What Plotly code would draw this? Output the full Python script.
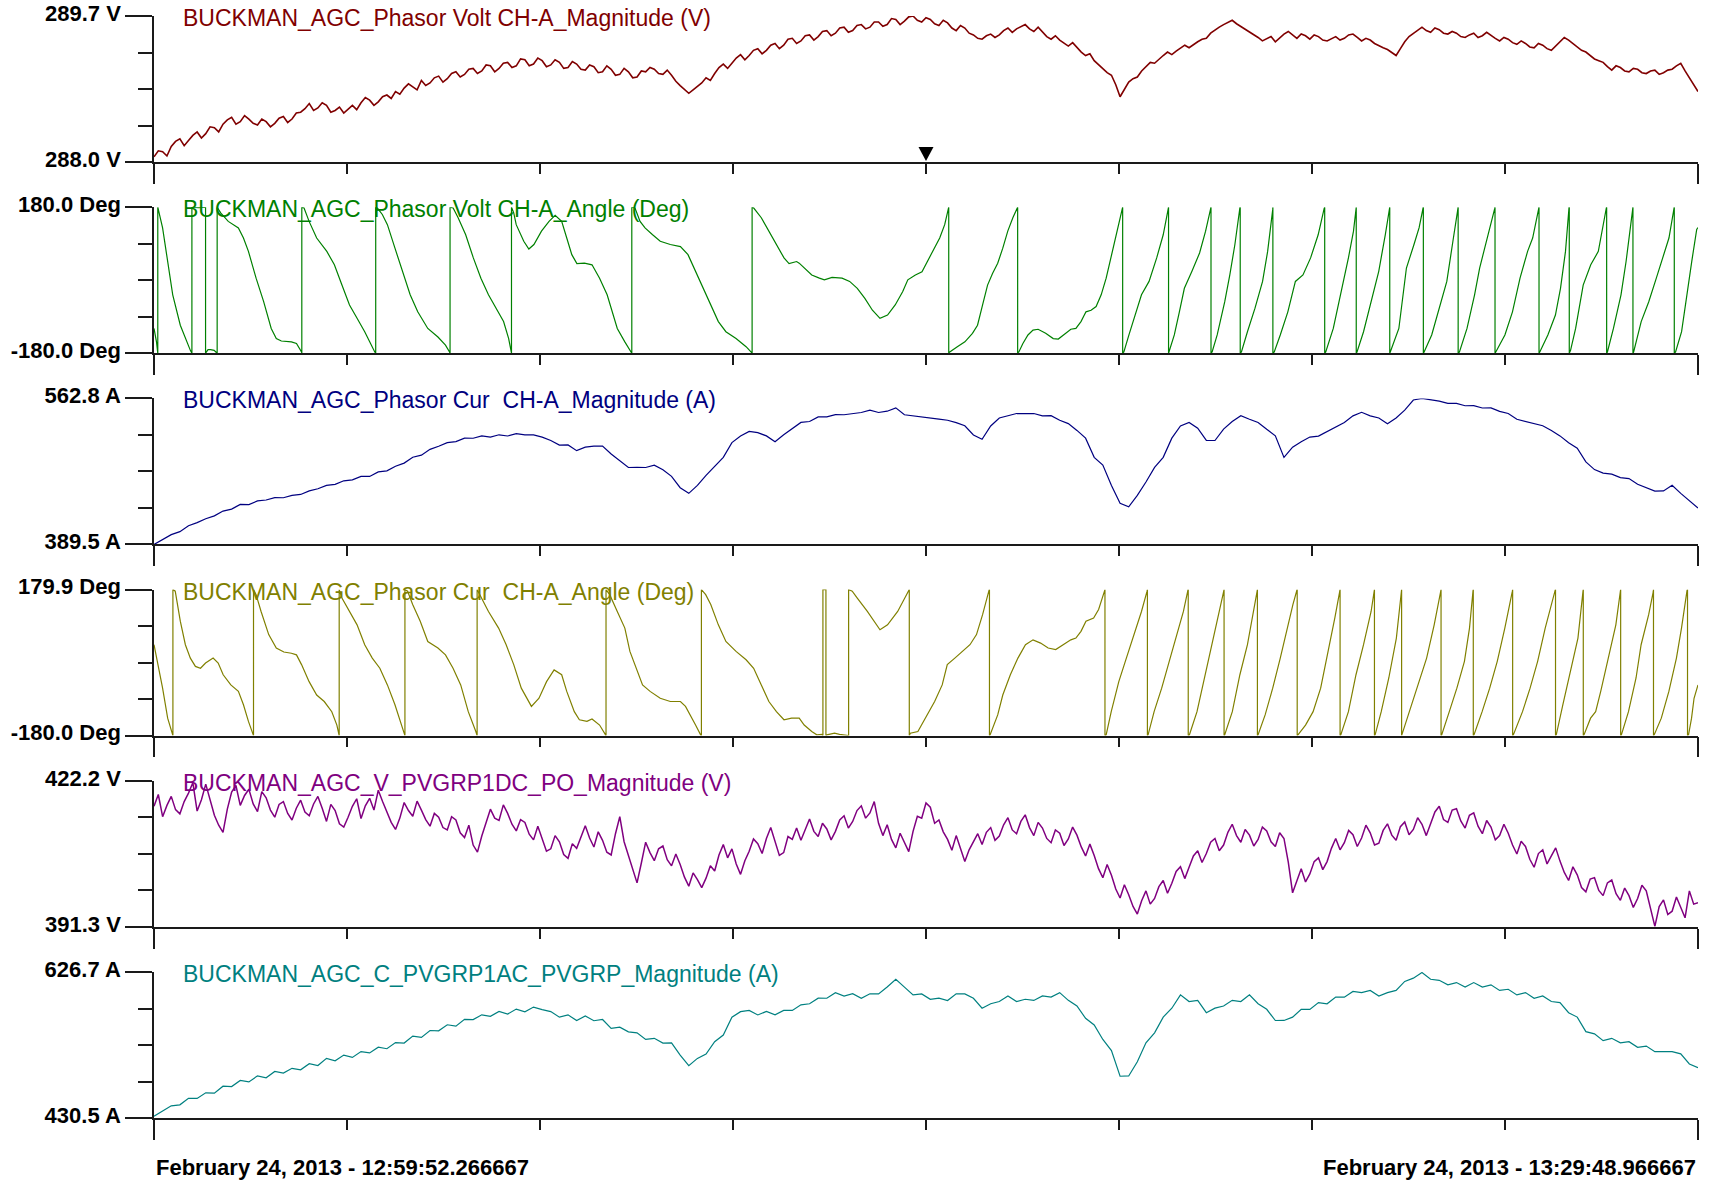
import numpy as np
import plotly.graph_objects as go

# ---------------- data ----------------
DURATION_S = 1796.7           # 12:59:52.266667 -> 13:29:48.966667
START_LABEL = "February 24, 2013 - 12:59:52.266667"
END_LABEL = "February 24, 2013 - 13:29:48.966667"
CURSOR_T = 898.35

TITLES = [
    "BUCKMAN_AGC_Phasor Volt CH-A_Magnitude (V)",
    "BUCKMAN_AGC_Phasor Volt CH-A_Angle (Deg)",
    "BUCKMAN_AGC_Phasor Cur\u00a0 CH-A_Magnitude (A)",
    "BUCKMAN_AGC_Phasor Cur\u00a0 CH-A_Angle (Deg)",
    "BUCKMAN_AGC_V_PVGRP1DC_PO_Magnitude (V)",
    "BUCKMAN_AGC_C_PVGRP1AC_PVGRP_Magnitude (A)",
]
Y_RANGES = [(288.0, 289.7), (-180.0, 180.0), (389.5, 562.8),
            (-180.0, 179.9), (391.3, 422.2), (430.5, 626.7)]
Y_LABELS = [("288.0 V", "289.7 V"), ("-180.0 Deg", "180.0 Deg"),
            ("389.5 A", "562.8 A"), ("-180.0 Deg", "179.9 Deg"),
            ("391.3 V", "422.2 V"), ("430.5 A", "626.7 A")]

# Panel 1: voltage magnitude (V), evenly spaced samples
VOLT_MAG = [
    288.06, 288.13, 288.12, 288.07, 288.18, 288.24, 288.27, 288.19, 288.25, 288.31,
    288.35, 288.28, 288.33, 288.41, 288.40, 288.35, 288.44, 288.49, 288.52, 288.44,
    288.47, 288.54, 288.50, 288.45, 288.43, 288.50, 288.47, 288.41, 288.45, 288.51,
    288.53, 288.46, 288.50, 288.57, 288.58, 288.62, 288.68, 288.60, 288.63, 288.69,
    288.66, 288.58, 288.60, 288.64, 288.57, 288.62, 288.66, 288.61, 288.69, 288.75,
    288.72, 288.66, 288.70, 288.76, 288.78, 288.74, 288.82, 288.79, 288.86, 288.91,
    288.88, 288.84, 288.95, 288.89, 288.92, 288.98, 289.00, 288.93, 288.97, 289.03,
    289.05, 288.99, 289.02, 289.08, 289.09, 289.03, 289.06, 289.13, 289.12, 289.05,
    289.09, 289.15, 289.16, 289.10, 289.12, 289.20, 289.19, 289.12, 289.14, 289.21,
    289.18, 289.11, 289.13, 289.19, 289.16, 289.09, 289.10, 289.17, 289.14, 289.08,
    289.07, 289.13, 289.11, 289.04, 289.05, 289.12, 289.08, 289.01, 289.02, 289.09,
    289.05, 288.98, 288.99, 289.06, 289.05, 289.10, 289.08, 289.03, 289.02, 289.07,
    289.01, 288.94, 288.89, 288.85, 288.80, 288.84, 288.88, 288.92, 288.98, 288.95,
    289.03, 289.10, 289.14, 289.09, 289.15, 289.21, 289.25, 289.19, 289.24, 289.30,
    289.32, 289.26, 289.30, 289.36, 289.38, 289.32, 289.36, 289.43, 289.44, 289.38,
    289.41, 289.47, 289.48, 289.42, 289.46, 289.52, 289.53, 289.47, 289.50, 289.56,
    289.57, 289.51, 289.53, 289.59, 289.60, 289.55, 289.57, 289.63, 289.63, 289.58,
    289.60, 289.67, 289.66, 289.60, 289.64, 289.69, 289.70, 289.65, 289.63, 289.68,
    289.66, 289.61, 289.59, 289.65, 289.62, 289.56, 289.53, 289.59, 289.56, 289.50,
    289.48, 289.44, 289.43, 289.47, 289.49, 289.45, 289.48, 289.53, 289.56, 289.51,
    289.55, 289.58, 289.60, 289.55, 289.52, 289.57, 289.51, 289.46, 289.43, 289.47,
    289.42, 289.38, 289.35, 289.39, 289.33, 289.28, 289.24, 289.26, 289.18, 289.13,
    289.08, 289.04, 289.01, 288.90, 288.76, 288.84, 288.93, 288.97, 288.99, 289.06,
    289.11, 289.16, 289.15, 289.20, 289.24, 289.28, 289.25, 289.29, 289.32, 289.36,
    289.33, 289.37, 289.40, 289.43, 289.44, 289.50, 289.54, 289.57, 289.60, 289.63,
    289.65, 289.61, 289.58, 289.55, 289.52, 289.48, 289.45, 289.41, 289.44, 289.46,
    289.40, 289.45, 289.49, 289.52, 289.48, 289.44, 289.49, 289.47, 289.43, 289.48,
    289.46, 289.42, 289.41, 289.44, 289.46, 289.42, 289.44, 289.48, 289.49, 289.45,
    289.41, 289.44, 289.42, 289.38, 289.35, 289.33, 289.31, 289.27, 289.24, 289.32,
    289.40, 289.46, 289.50, 289.54, 289.57, 289.53, 289.51, 289.56, 289.54, 289.50,
    289.49, 289.52, 289.50, 289.46, 289.45, 289.48, 289.50, 289.45, 289.47, 289.51,
    289.48, 289.44, 289.41, 289.45, 289.43, 289.39, 289.37, 289.41, 289.38, 289.34,
    289.33, 289.38, 289.36, 289.32, 289.30, 289.35, 289.40, 289.45, 289.42, 289.38,
    289.33, 289.30, 289.28, 289.24, 289.20, 289.18, 289.16, 289.11, 289.07, 289.12,
    289.10, 289.06, 289.05, 289.09, 289.08, 289.04, 289.03, 289.06, 289.07, 289.02,
    289.04, 289.07, 289.08, 289.12, 289.15, 289.06, 288.98, 288.90, 288.82,
]

# Panel 2: voltage angle (s, deg); wraps appear as repeated times
VOLT_ANGLE_POINTS = [
    (0, -119), (2.9, -152), (4.4, -180), (4.4, 180), (10, 129), (15.9, 46), (21.8, -36),
    (30.6, -111), (36.5, -144), (42.3, -173), (44.1, -180), (44.1, 180), (52, 179), (60, 180),
    (60, -180), (62.9, -171), (65.8, -171), (70, -173), (73.5, -180), (73.5, 180), (77.6, 166),
    (86.4, 145), (98.2, 129), (104.1, 104), (109.9, 71), (118.8, 5), (127.6, -53), (136.4, -119),
    (142.3, -144), (148.2, -150), (159.9, -152), (165.8, -156), (171.7, -177), (172, -180),
    (172, 180), (174.6, 178), (180.5, 145), (189.3, 104), (201.1, 71), (209.9, 38), (218.7, -12),
    (227.5, -61), (236.3, -94), (245.2, -127), (256.9, -177), (258, -180), (258, 180),
    (259.9, 178), (265.7, 162), (271.6, 137), (280.4, 79), (289.2, 22), (298.1, -36),
    (306.9, -78), (318.6, -119), (330.4, -140), (339.2, -160), (343.9, -177), (344.5, -180),
    (344.5, 180), (348.1, 178), (353.9, 154), (362.7, 112), (371.6, 55), (380.4, 5),
    (389.2, -36), (398, -69), (406.8, -102), (412.7, -144), (415.6, -177), (416, -180),
    (416, 180), (418.6, 166), (421.5, 137), (430.3, 96), (436.2, 77), (442.1, 88),
    (450.9, 121), (459.7, 145), (466.8, 160), (474.4, 145), (480.3, 104), (486.2, 63),
    (492.1, 41), (500.9, 42), (509.7, 38), (518.5, 5), (527.3, -36), (533.2, -78),
    (539.1, -119), (547.9, -152), (554.9, -177), (556, -180), (556, 180), (559.7, 178),
    (565.6, 145), (571.4, 129), (580.2, 112), (589.1, 96), (600.8, 88), (612.6, 83),
    (621.4, 63), (630.2, 22), (639, -20), (647.9, -61), (656.7, -102), (665.5, -127),
    (677.3, -144), (689, -164), (694.9, -177), (696, -180), (696, 180), (697.9, 178),
    (706.7, 154), (715.5, 121), (724.3, 88), (733.1, 55), (739, 41), (747.8, 46),
    (750.8, 42), (756.6, 30), (765.4, 13), (774.3, 5), (780.1, 1), (789, 7), (800.7, 5),
    (809.5, -3), (818.4, -20), (827.2, -45), (836, -74), (844.8, -94), (853.6, -86),
    (862.5, -61), (871.3, -28), (877.2, 1), (886, 13), (893.7, 21), (899.6, 45), (905.4, 68),
    (914.3, 104), (920.1, 137), (924.2, 178), (924.8, 180), (924.8, -180), (926, -177),
    (934.8, -164), (943.6, -152), (952.4, -131), (958.3, -111), (964.2, -61), (970, -12),
    (975.9, 17), (981.8, 42), (987.7, 79), (993.5, 121), (999.4, 154), (1005, 180),
    (1005, -180), (1006.4, -177), (1011.1, -156), (1017, -135), (1022.9, -123),
    (1028.8, -121), (1037.6, -131), (1046.4, -144), (1052.3, -145), (1058.1, -135),
    (1066.9, -121), (1072.8, -119), (1078.7, -102), (1084.5, -78), (1090.4, -74),
    (1096.3, -65), (1102.2, -36), (1108, 5), (1113.9, 59), (1119.8, 112), (1126.8, 177),
    (1127.2, 180), (1127.2, -180), (1128.6, -177), (1134.5, -135), (1140.3, -94),
    (1149.1, -36), (1157.9, -3), (1166.8, 55), (1174.4, 112), (1180.3, 178), (1180.6, 180),
    (1180.6, -180), (1181.4, -175), (1187.3, -135), (1193.2, -78), (1199, -20),
    (1207.8, 22), (1216.7, 67), (1223.7, 121), (1229.6, 178), (1230, 180), (1230, -180),
    (1231.3, -177), (1237.2, -135), (1246, -53), (1251.9, 13), (1257.8, 88), (1263.6, 178),
    (1264, 180), (1264, -180), (1265.4, -177), (1272.4, -127), (1281.2, -69), (1290, -3),
    (1295.9, 71), (1301.8, 174), (1302, 180), (1302, -180), (1303.6, -177), (1310.6, -135),
    (1319.4, -78), (1328.2, -3), (1337, 13), (1345.9, 55), (1354.7, 112), (1361.7, 177),
    (1362.3, 180), (1362.3, -180), (1363.5, -177), (1372.3, -119), (1381.1, -36),
    (1389.9, 55), (1395.8, 121), (1398.7, 177), (1399, 180), (1399, -180), (1399.9, -177),
    (1407.5, -127), (1416.3, -53), (1425.2, 22), (1432.8, 112), (1437.5, 174), (1438, 180),
    (1438, -180), (1438.6, -177), (1448.6, -119), (1457.4, 30), (1466.2, 88), (1472.1, 129),
    (1476.8, 178), (1477.1, 180), (1477.1, -180), (1478, -177), (1486.8, -135),
    (1495.6, -69), (1504.4, -3), (1511.5, 96), (1517.3, 177), (1517.6, 180), (1517.6, -180),
    (1519.1, -177), (1527.9, -119), (1536.7, -36), (1542.6, 30), (1548.5, 79), (1554.3, 121),
    (1560.2, 177), (1560.5, 180), (1560.5, -180), (1561.4, -177), (1572, -135),
    (1580.8, -78), (1589.6, 5), (1598.4, 71), (1604.3, 104), (1611.4, 177), (1611.7, 180),
    (1611.7, -180), (1612.6, -177), (1622, -135), (1630.8, -86), (1636.7, -20),
    (1642.5, 71), (1646.6, 179), (1646.9, 180), (1646.9, -180), (1648.4, -173),
    (1654.3, -119), (1663.1, -12), (1671.9, 38), (1680.7, 71), (1690.1, 179), (1690.4, 180),
    (1690.4, -180), (1691.3, -177), (1698.3, -119), (1707.1, -36), (1713, 46),
    (1720.6, 177), (1721, 180), (1721, -180), (1721.8, -177), (1730.6, -102), (1739.4, -53),
    (1748.2, 5), (1757.1, 63), (1762.9, 104), (1768.8, 177), (1769.1, 180), (1769.1, -180),
    (1770.6, -177), (1777.6, -127), (1783.5, -36), (1789.4, 46), (1795.2, 125),
    (1796.7, 130),
]

# Panel 3: current magnitude (A), evenly spaced samples
CUR_MAG = [
    389.5, 395.2, 401.1, 404.6, 411.7, 415.3, 419.9, 423.4, 429.1, 431.4,
    437.0, 436.8, 441.1, 442.2, 445.0, 444.9, 447.6, 448.8, 453.0, 455.5,
    459.6, 460.8, 465.0, 466.1, 470.3, 470.2, 475.6, 476.8, 482.3, 486.0,
    493.0, 495.4, 502.3, 506.0, 510.3, 511.5, 515.6, 515.5, 518.3, 516.9,
    519.6, 518.2, 520.9, 519.4, 519.5, 516.8, 512.9, 507.4, 507.6, 500.8,
    504.9, 506.1, 506.3, 496.8, 488.9, 480.8, 480.9, 480.8, 483.6, 478.1,
    470.3, 456.8, 450.1, 459.6, 471.4, 482.3, 492.8, 510.3, 518.1, 523.6,
    522.1, 518.3, 511.4, 519.6, 527.4, 534.3, 535.4, 540.9, 540.8, 543.6,
    543.4, 544.9, 546.1, 548.9, 546.1, 547.6, 551.6, 543.4, 542.3, 540.8,
    539.6, 538.1, 536.9, 534.1, 530.3, 519.4, 514.3, 530.1, 539.6, 542.1,
    544.9, 544.8, 544.9, 542.1, 542.3, 536.8, 532.9, 524.8, 515.6, 492.8,
    483.6, 459.5, 438.3, 434.1, 447.6, 463.5, 480.9, 492.8, 515.6, 530.1,
    534.3, 527.4, 512.9, 512.8, 526.3, 535.4, 542.3, 538.1, 534.3, 526.1,
    518.3, 492.8, 504.9, 511.4, 516.9, 518.1, 523.6, 528.8, 534.3, 542.1,
    546.3, 542.1, 539.6, 532.8, 539.6, 548.8, 560.9, 562.8, 561.0, 559.6,
    556.8, 556.9, 554.1, 554.3, 551.4, 551.6, 547.4, 544.9, 538.1, 535.6,
    532.8, 530.3, 524.8, 518.3, 510.1, 503.6, 487.4, 478.3, 474.1, 472.9,
    468.8, 467.6, 460.8, 457.0, 452.8, 453.0, 459.6, 450.1, 441.0, 432.8,
]

# Panel 4: current angle (s, deg); wraps appear as repeated times
CUR_ANGLE_POINTS = [
    (0, 44), (10, -63), (15.9, -137), (21.8, -178), (22, -180), (22, 180), (24.7, 176),
    (30.6, 102), (36.5, 44), (42.3, 11), (48.2, -9.5), (54.1, -14), (60, -1), (68.8, 11),
    (74.7, -1), (80.5, -30), (89.4, -55), (98.2, -71), (104.1, -104), (109.9, -145),
    (115.8, -180), (115.8, 180), (118.8, 167.5), (124.6, 126), (133.5, 69), (142.3, 36),
    (151.1, 26), (159.9, 23), (165.8, 19), (171.7, -5), (180.5, -47), (189.3, -80),
    (198.1, -96), (206.9, -121), (212.8, -154), (215.5, -180), (215.5, 180), (218.7, 159),
    (227.5, 126), (236.3, 93), (245.2, 44), (254, 11), (262.8, -14), (271.6, -55),
    (280.4, -104), (286.3, -145), (292, -180), (292, 180), (295.1, 176), (301, 143),
    (309.8, 102), (318.6, 52), (330.4, 36), (339.2, 19), (348, -14), (356.9, -55),
    (365.7, -121), (374.5, -170), (376, -180), (376, 180), (380.4, 163), (389.2, 126),
    (401, 85), (409.8, 44), (418.6, -5), (427.4, -63), (439.2, -108), (448, -88),
    (456.8, -47), (465.6, -18), (474.4, -30), (480.3, -71), (489.1, -121), (495, -141),
    (503.8, -145), (509.7, -139), (518.5, -154), (525.6, -178), (526, -180), (526, 180),
    (530.3, 167.5), (539.1, 126), (547.9, 85), (553.8, 27.5), (562.6, -22), (568.5, -55),
    (577.3, -71), (589.1, -88), (600.8, -96), (612.6, -96), (618.5, -108), (624.3, -129),
    (630.2, -154), (636.1, -178), (637, -180), (637, 180), (642, 167.5), (647.9, 143),
    (656.7, 93), (665.5, 52), (677.3, 27.5), (689, 7), (697.8, -14), (706.7, -55),
    (715.5, -96), (724.3, -121), (733.1, -141), (741.9, -137), (750.8, -137), (756.6, -154),
    (765.4, -170), (771.3, -178), (777.2, -177), (778.4, -180), (778.4, 180), (781.9, 180),
    (781.9, -180), (783.1, -178), (791.9, -174), (797.7, -177), (806.6, -178),
    (808.3, -180), (808.3, 180), (812.5, 176), (818.4, 159), (830.1, 126), (844.8, 81),
    (853.6, 93), (865.4, 126), (877.1, 176), (878.9, 180), (878.9, -180), (880.1, -174),
    (888.9, -170), (899.6, -129), (908.4, -96), (917.2, -55), (923.1, -5), (931.9, 11),
    (940.7, 27.5), (949.5, 44), (957.1, 69), (964.2, 118), (971.8, 179), (972.2, 180),
    (972.2, -180), (973, -178), (981.8, -129), (987.7, -80), (996.5, -30), (1005.3, 11),
    (1014.1, 44), (1022.9, 56), (1031.7, 48), (1040.5, 36), (1049.3, 32), (1058.1, 44),
    (1066.9, 56), (1072.8, 60.5), (1078.7, 77), (1084.5, 102), (1093.4, 110), (1099.2, 131),
    (1106.3, 176), (1106.6, 180), (1106.6, -180), (1108, -178), (1113.9, -121),
    (1122.7, -47), (1131.5, 11), (1140.3, 69), (1149.1, 126), (1155.6, 176), (1156, 180),
    (1156, -180), (1156.8, -178), (1163.8, -121), (1172.6, -63), (1181.4, 3), (1190.3, 69),
    (1197.9, 126), (1203.2, 179), (1203.5, 180), (1203.5, -180), (1204.9, -178),
    (1213.7, -121), (1222.5, -38), (1231.3, 44), (1240.2, 126), (1244.9, 177),
    (1245.2, 180), (1245.2, -180), (1246, -178), (1254.8, -121), (1263.6, -30),
    (1272.4, 44), (1278.9, 126), (1283.6, 176), (1284, 180), (1284, -180), (1284.8, -178),
    (1293, -129), (1301.8, -63), (1310.6, 11), (1319.4, 93), (1325.3, 143), (1330, 179),
    (1330.3, 180), (1330.3, -180), (1331.2, -178), (1340, -154), (1348.8, -121),
    (1357.6, -63), (1366.4, 27.5), (1374.1, 110), (1379.9, 177), (1380.2, 180),
    (1380.2, -180), (1381.1, -178), (1389.9, -121), (1398.7, -30), (1407.5, 44),
    (1416.3, 126), (1419.9, 176), (1420.2, 180), (1420.2, -180), (1421, -178),
    (1428.1, -121), (1436.9, -38), (1445.7, 60.5), (1451.5, 176), (1451.8, 180),
    (1451.8, -180), (1452.1, -178), (1460.3, -121), (1469.2, -63), (1480.9, 11),
    (1489.7, 93), (1497.4, 176), (1497.7, 180), (1497.7, -180), (1498.5, -178),
    (1507.3, -121), (1516.1, -63), (1524.9, 3), (1530.8, 85), (1534.9, 177), (1535.2, 180),
    (1535.2, -180), (1536.1, -178), (1545.5, -121), (1554.3, -63), (1563.1, 3),
    (1571.9, 85), (1580.7, 176), (1581, 180), (1581, -180), (1581.9, -178), (1592.5, -121),
    (1601.3, -63), (1610.1, 3), (1618.9, 85), (1630.6, 179), (1630.9, 180), (1630.9, -180),
    (1631.8, -178), (1639.4, -104), (1648.2, -22), (1657, 60.5), (1662.9, 176),
    (1663.2, 180), (1663.2, -180), (1664.1, -178), (1671.7, -137), (1677.6, -121),
    (1683.5, -71), (1692.3, 11), (1701.1, 93), (1706.4, 176), (1706.7, 180),
    (1706.7, -180), (1707.6, -178), (1715.8, -121), (1724.6, -38), (1730.5, 44),
    (1739.3, 118), (1744.6, 174), (1744.9, 180), (1744.9, -180), (1745.8, -178),
    (1754, -137), (1762.8, -71), (1771.6, 11), (1777.5, 85), (1783.9, 177), (1784.5, 180),
    (1784.5, -180), (1785.7, -178), (1789.2, -137), (1792.1, -88), (1796.7, -55),
]

# Panel 5: PV DC voltage (V), evenly spaced samples
PV_DC_VOLT = [
    416.8, 419.3, 414.6, 417.0, 418.9, 416.1, 415.2, 417.8, 419.6, 421.8,
    415.8, 418.2, 421.5, 418.0, 414.9, 412.8, 411.3, 416.2, 419.8, 421.2,
    417.0, 419.1, 420.4, 417.3, 415.7, 419.9, 418.6, 416.0, 414.5, 417.2,
    417.8, 415.3, 413.9, 416.4, 418.1, 415.6, 414.8, 417.3, 418.9, 416.4,
    413.6, 417.2, 415.9, 413.1, 412.4, 414.5, 416.8, 418.4, 414.2, 416.9,
    418.5, 416.0, 420.2, 417.8, 415.4, 413.4, 411.9, 414.3, 417.6, 415.9,
    414.7, 417.9, 416.0, 414.0, 412.6, 415.3, 414.5, 412.3, 411.8, 414.6,
    413.9, 411.2, 410.2, 412.8, 408.6, 407.1, 410.5, 413.2, 416.2, 414.3,
    413.8, 417.1, 415.3, 413.0, 411.6, 414.0, 413.4, 410.9, 409.7, 412.6,
    409.9, 407.3, 407.8, 410.6, 409.3, 406.6, 405.8, 408.9, 407.9, 410.3,
    412.7, 410.1, 408.2, 411.4, 409.6, 407.1, 406.5, 411.0, 414.6, 409.3,
    406.4, 403.5, 400.6, 404.8, 409.2, 407.0, 405.3, 407.8, 408.4, 405.5,
    404.2, 406.7, 404.5, 401.8, 399.9, 402.7, 401.3, 399.6, 401.6, 404.2,
    403.1, 406.5, 408.7, 405.9, 407.8, 404.6, 402.4, 405.3, 407.3, 409.9,
    408.9, 406.8, 410.0, 412.3, 409.1, 406.4, 407.0, 410.4, 409.8, 412.2,
    409.6, 411.8, 414.1, 411.5, 410.4, 413.2, 412.0, 409.7, 411.5, 413.9,
    414.8, 412.2, 413.6, 415.9, 416.9, 414.3, 415.4, 417.8, 413.2, 410.6,
    412.9, 409.8, 408.0, 411.1, 409.0, 407.2, 411.5, 414.7, 414.3, 417.5,
    416.6, 413.2, 413.9, 411.4, 409.8, 407.5, 410.6, 407.9, 405.1, 407.6,
    409.2, 411.0, 408.7, 411.3, 412.3, 409.6, 410.5, 412.9, 414.4, 411.8,
    411.0, 413.6, 415.0, 412.3, 410.6, 413.4, 412.2, 410.0, 409.1, 411.8,
    411.1, 408.5, 409.9, 412.4, 410.7, 408.2, 406.3, 408.8, 406.4, 403.6,
    401.7, 404.5, 402.2, 399.3, 397.4, 400.2, 398.1, 395.6, 394.0, 396.8,
    398.9, 396.1, 397.3, 399.8, 401.1, 398.4, 400.5, 403.0, 404.0, 401.5,
    403.9, 406.3, 407.4, 404.9, 406.8, 409.2, 410.0, 407.4, 408.6, 411.3,
    413.0, 410.6, 409.2, 411.9, 410.7, 408.4, 409.8, 412.4, 411.6, 409.3,
    408.3, 411.2, 410.0, 405.0, 398.5, 401.2, 403.6, 400.8, 402.5, 405.1,
    405.9, 403.4, 405.1, 407.9, 410.0, 407.6, 409.1, 411.7, 410.8, 408.3,
    410.1, 412.8, 411.2, 408.6, 409.0, 411.7, 413.1, 410.7, 409.6, 412.5,
    413.5, 410.8, 411.9, 414.4, 413.0, 410.6, 412.9, 415.6, 416.8, 414.0,
    413.4, 416.0, 416.3, 413.7, 412.2, 414.9, 415.4, 412.6, 411.0, 413.8,
    412.4, 409.7, 410.6, 413.0, 411.1, 408.6, 406.7, 409.4, 408.3, 405.6,
    403.9, 406.8, 407.6, 404.6, 406.3, 408.0, 405.2, 402.8, 401.1, 404.0,
    402.3, 399.6, 398.7, 401.4, 401.7, 399.0, 397.9, 400.6, 401.2, 398.3,
    396.9, 399.5, 397.9, 395.4, 397.3, 400.1, 398.9, 394.8, 391.4, 395.6,
    397.0, 393.9, 394.6, 397.6, 395.4, 393.2, 398.9, 396.1, 396.4,
]

# Panel 6: PV AC current (A), evenly spaced samples
PV_AC_CUR = [
    433.0, 440.1, 446.9, 448.2, 457.0, 456.8, 464.3, 463.9, 473.2, 472.8,
    480.9, 479.0, 487.1, 484.6, 493.0, 490.8, 497.3, 495.2, 503.4, 501.0,
    510.6, 507.3, 515.1, 511.9, 519.8, 518.0, 525.7, 523.6, 531.8, 531.2,
    540.6, 538.8, 548.1, 547.6, 555.8, 553.9, 563.1, 562.7, 569.2, 567.1,
    573.8, 570.2, 576.9, 573.3, 579.6, 576.2, 573.5, 566.0, 569.1, 561.4,
    567.6, 561.2, 562.9, 551.0, 552.6, 546.3, 545.0, 536.1, 537.6, 531.2,
    531.5, 515.0, 500.8, 510.6, 516.5, 533.1, 541.9, 566.0, 573.4, 575.1,
    569.0, 573.6, 569.2, 575.0, 575.1, 582.6, 584.0, 591.5, 591.4, 598.9,
    594.3, 597.5, 591.3, 597.4, 597.2, 606.5, 617.0, 606.4, 596.0, 597.3,
    590.0, 591.6, 588.4, 597.5, 597.3, 591.4, 578.1, 584.0, 587.1, 594.4,
    587.0, 590.1, 588.5, 594.6, 592.9, 599.0, 588.6, 581.0, 564.5, 555.6,
    536.0, 521.1, 486.6, 487.0, 506.1, 531.6, 545.0, 566.1, 578.0, 596.0,
    587.0, 588.6, 572.0, 578.1, 581.0, 588.6, 587.0, 596.0, 584.0, 576.6,
    561.5, 561.6, 566.0, 576.6, 576.5, 585.6, 584.0, 593.1, 592.9, 600.5,
    598.9, 602.0, 594.4, 599.0, 601.9, 614.0, 618.4, 626.0, 616.9, 615.5,
    609.4, 612.5, 606.4, 612.5, 606.4, 609.5, 601.9, 603.5, 595.9, 599.0,
    591.4, 594.5, 587.0, 585.6, 572.0, 566.1, 546.5, 543.6, 534.5, 537.6,
    531.5, 533.1, 525.5, 527.2, 519.6, 519.7, 519.6, 516.7, 503.1, 498.0,
]

COLORS = ["#800000", "#008000", "#000080", "#808000", "#800080", "#008080"]

# ---------------- build series ----------------
def even_times(vals):
    return np.linspace(0.0, DURATION_S, len(vals))

va_t, va_v = zip(*VOLT_ANGLE_POINTS)
ca_t, ca_v = zip(*CUR_ANGLE_POINTS)
SERIES = [
    (even_times(VOLT_MAG), VOLT_MAG),
    (list(va_t), list(va_v)),
    (even_times(CUR_MAG), CUR_MAG),
    (list(ca_t), list(ca_v)),
    (even_times(PV_DC_VOLT), PV_DC_VOLT),
    (even_times(PV_AC_CUR), PV_AC_CUR),
]
LINE_WIDTHS = [1.6, 1.2, 1.2, 1.2, 1.5, 1.2]

# ---------------- layout geometry (pixels) ----------------
W, H = 1713, 1183
ML, MR, MT, MB = 154, 15, 16, 65
PLOT_W = W - ML - MR
PLOT_H = H - MT - MB
PANEL_H = 146
PITCH = (PLOT_H - PANEL_H) / 5.0
AXIS_COLOR = "#1a1a1a"
BOLD_FAMILY = "Liberation Sans, Arial, sans-serif"
TITLE_FAMILY = "Liberation Sans, Arial, sans-serif"

fig = go.Figure()
x_ticks = list(np.linspace(0.0, DURATION_S, 9))

for i, ((tt, vv), color) in enumerate(zip(SERIES, COLORS)):
    n = i + 1
    xa = "x" if n == 1 else f"x{n}"
    ya = "y" if n == 1 else f"y{n}"
    fig.add_trace(go.Scatter(x=tt, y=vv, mode="lines", xaxis=xa, yaxis=ya,
                             line=dict(color=color, width=LINE_WIDTHS[i]),
                             showlegend=False, hoverinfo="skip"))
    top = i * PITCH
    d1 = 1.0 - top / PLOT_H
    d0 = 1.0 - (top + PANEL_H) / PLOT_H
    lo, hi = Y_RANGES[i]
    q = (hi - lo) / 4.0
    fig.update_layout(**{
        ("xaxis" if n == 1 else f"xaxis{n}"): dict(
            domain=[0, 1], range=[0, DURATION_S], anchor=ya, automargin=False,
            showline=True, linecolor=AXIS_COLOR, linewidth=1.5,
            showgrid=False, zeroline=False, showticklabels=False,
            ticks="outside", tickmode="array", tickvals=[0, DURATION_S],
            ticklen=20, tickwidth=1.5, tickcolor=AXIS_COLOR,
            minor=dict(tickmode="array", tickvals=x_ticks[1:-1], ticks="outside",
                       ticklen=10, tickwidth=1.5, tickcolor=AXIS_COLOR, showgrid=False),
        ),
        ("yaxis" if n == 1 else f"yaxis{n}"): dict(
            domain=[max(d0, 0.0), min(d1, 1.0)], range=[lo, hi], anchor=xa,
            automargin=False,
            showline=True, linecolor=AXIS_COLOR, linewidth=1.5,
            showgrid=False, zeroline=False,
            ticks="outside", tickmode="array", tickvals=[lo, hi],
            ticktext=[Y_LABELS[i][0], Y_LABELS[i][1]],
            ticklen=27, tickwidth=1.5, tickcolor=AXIS_COLOR,
            ticklabelshift=-3,
            tickfont=dict(family=BOLD_FAMILY, size=22, color="#000000", weight="bold"),
            minor=dict(tickmode="array", tickvals=[lo + q, lo + 2 * q, lo + 3 * q],
                       ticks="outside", ticklen=14, tickwidth=1.5,
                       tickcolor=AXIS_COLOR, showgrid=False),
        ),
    })
    fig.add_annotation(text=TITLES[i], xref="paper", yref=f"{ya} domain",
                       x=27.0 / PLOT_W, y=1.0, xanchor="left", yanchor="middle",
                       yshift=-2, showarrow=False,
                       font=dict(family=TITLE_FAMILY, size=23, color=color))

# time labels under the last panel
for txt, xpos, anchor in [(START_LABEL, 0.0, "left"),
                          (END_LABEL, 1.0, "right")]:
    fig.add_annotation(text=txt, xref="paper", yref="paper", x=xpos, y=0.0,
                       xanchor=anchor, yanchor="middle", yshift=-49, showarrow=False,
                       font=dict(family=BOLD_FAMILY, size=22, color="#000000",
                                 weight="bold"))

# cursor marker on the first panel
fig.add_shape(type="path", xref="x", yref="y", xsizemode="pixel", ysizemode="pixel",
              xanchor=CURSOR_T, yanchor=Y_RANGES[0][0],
              path="M -7.5,15 L 7.5,15 L 0,1 Z", fillcolor="#000000",
              line=dict(width=0), layer="above")

fig.update_layout(width=W, height=H, margin=dict(l=ML, r=MR, t=MT, b=MB, autoexpand=False),
                  paper_bgcolor="white", plot_bgcolor="white",
                  font=dict(family="Liberation Sans, Arial"))

fig.write_html("out.html", config={"displayModeBar": False},
               post_script="document.body.style.margin='0px';"
                           "document.body.style.overflow='hidden';")
